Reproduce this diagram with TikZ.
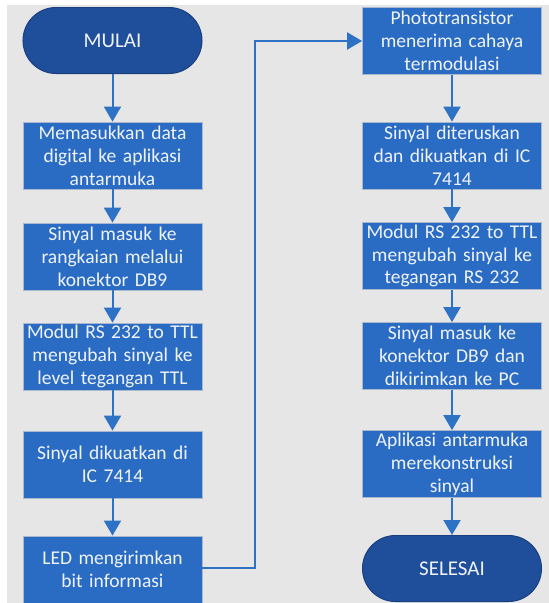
\documentclass[tikz,border=0pt]{standalone}
\usepackage{fontspec}
\setmainfont{Carlito}
\usetikzlibrary{arrows.meta}
\definecolor{bg}{HTML}{E6E6E6}
\definecolor{boxfill}{HTML}{2A6CC3}
\definecolor{boxedge}{HTML}{A9B8CC}
\definecolor{termfill}{HTML}{1F4E9B}
\definecolor{termedge}{HTML}{193F7E}
\definecolor{linec}{HTML}{2E72C6}
\definecolor{txt}{HTML}{F0F3F8}
\tikzset{
  x=1pt, y=-1pt,
  procbox/.style={draw=boxedge, line width=0.8pt, fill=boxfill, minimum width=179pt, minimum height=67pt,
    text width=179pt, align=center, inner sep=0pt, text=txt,
    font=\fontsize{19.5}{22.8}\selectfont},
  termbox/.style={draw=termedge, line width=1pt, fill=termfill, rounded corners=33pt, minimum width=179pt,
    minimum height=66pt, align=center, text=txt, font=\fontsize{21}{24}\selectfont},
  flow/.style={draw=linec, line width=2pt, -{Triangle[width=17pt,length=15pt]}}
}
\begin{document}
\begin{tikzpicture}
\useasboundingbox (0,0) rectangle (549,603);
\fill[white] (0,0) rectangle (549,603);
\fill[bg] (7,5) rectangle (549,603);

\node[termbox] (start) at (112.5,40.5) {MULAI};
\node[procbox] (b1) at (112.5,155.5) {Memasukkan data\\digital ke aplikasi\\antarmuka};
\node[procbox] (b2) at (112.5,256.5) {Sinyal masuk ke\\rangkaian melalui\\konektor DB9};
\node[procbox] (b3) at (112.5,356.5) {Modul RS 232 to TTL\\mengubah sinyal ke\\level tegangan TTL};
\node[procbox] (b4) at (112.5,464.5) {Sinyal dikuatkan di\\IC 7414};
\node[procbox] (b5) at (112.5,569.5) {LED mengirimkan\\bit informasi};

\node[procbox] (r1) at (452,41) {Phototransistor\\menerima cahaya\\termodulasi};
\node[procbox] (r2) at (452,155.5) {Sinyal diteruskan\\dan dikuatkan di IC\\7414};
\node[procbox] (r3) at (452,256) {Modul RS 232 to TTL\\mengubah sinyal ke\\tegangan RS 232};
\node[procbox] (r4) at (452,356) {Sinyal masuk ke\\konektor DB9 dan\\dikirimkan ke PC};
\node[procbox] (r5) at (452,464) {Aplikasi antarmuka\\merekonstruksi\\sinyal};
\node[termbox] (end) at (452,568.5) {SELESAI};

\coordinate (c1) at (255,568);
\coordinate (c2) at (255,41);

\draw[flow] (start) -- (b1);
\draw[flow] (b1) -- (b2);
\draw[flow] (b2) -- (b3);
\draw[flow] (b3) -- (b4);
\draw[flow] (b4) -- (b5);
\draw[flow] (b5.east |- c1) -- (c1) -- (c2) -- (r1.west);
\draw[flow] (r1) -- (r2);
\draw[flow] (r2) -- (r3);
\draw[flow] (r3) -- (r4);
\draw[flow] (r4) -- (r5);
\draw[flow] (r5) -- (end);
\end{tikzpicture}
\end{document}
